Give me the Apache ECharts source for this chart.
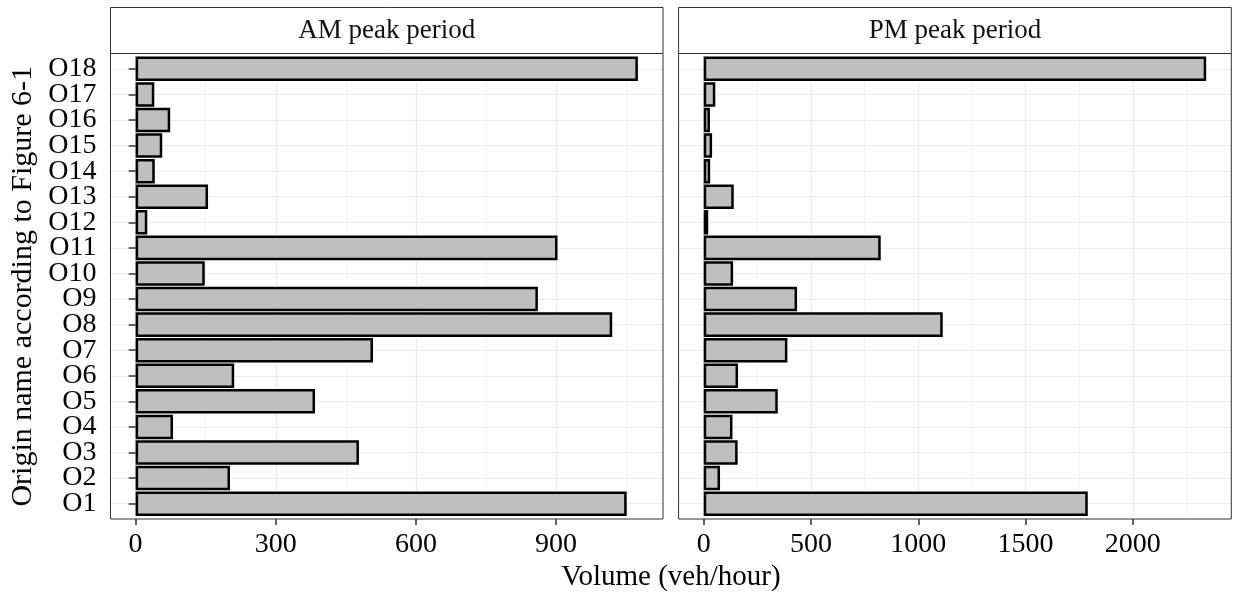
<!DOCTYPE html>
<html>
<head>
<meta charset="utf-8">
<script src="https://cdn.jsdelivr.net/npm/echarts@6/dist/echarts.min.js"></script>
<style>
  html, body { margin: 0; padding: 0; background: #fff; }
  #chart { width: 1235px; height: 596px; }
</style>
</head>
<body>
<div id="chart"></div>
<script>
// origins, bottom to top
const categories = ['O1', 'O2', 'O3', 'O4', 'O5', 'O6', 'O7', 'O8', 'O9', 'O10',
  'O11', 'O12', 'O13', 'O14', 'O15', 'O16', 'O17', 'O18']
const amVolume = [1051, 202, 478, 80, 384, 211, 508, 1020, 861, 148, 903, 25, 155, 41, 57, 74, 40, 1075]
const pmVolume = [1790, 76, 158, 134, 345, 160, 390, 1114, 435, 137, 825, 21, 140, 30, 39, 29, 54, 2342]
const amTicks = [0, 300, 600, 900]
const amMinor = [150, 450, 750, 1050]
const pmTicks = [0, 500, 1000, 1500, 2000]
const pmMinor = [250, 750, 1250, 1750, 2250]
const panelTitles = ['AM peak period', 'PM peak period']

const font = 'Liberation Serif, Times New Roman, serif'
const border = '#333333'
const gridLine = '#ebebeb'

// layout of the two facets (ggplot style)
const stripTop = 7.5
const panelTop = 53.5
const panelBottom = 519
const panels = [{ left: 110.5, right: 663 }, { left: 678.6, right: 1231.3 }]
const unit = (panelBottom - panelTop) / (categories.length + 0.2) // 0.6 expansion each side
const inset = 0.1 * unit

const chart = echarts.init(document.getElementById('chart'))

function expand(values) {
  const max = Math.max(...values)
  return { min: -0.05 * max, max: 1.05 * max }
}

function xAxes(i, values, ticks, minor) {
  const range = expand(values)
  return [{
    gridIndex: i,
    type: 'value',
    min: range.min,
    max: range.max,
    offset: inset,
    axisLine: { show: false },
    axisTick: { show: true, length: 6, customValues: ticks, lineStyle: { color: border, width: 1.5 } },
    axisLabel: {
      customValues: ticks, margin: 12, color: '#000', fontFamily: font, fontSize: 28,
      formatter: v => String(v)
    },
    splitLine: { show: true, lineStyle: { color: gridLine, width: 1.2 } }
  }, {
    // minor grid lines
    gridIndex: i,
    type: 'value',
    min: range.min,
    max: range.max,
    axisLine: { show: false },
    axisTick: { show: false, customValues: minor },
    axisLabel: { show: false, customValues: minor },
    splitLine: { show: true, lineStyle: { color: gridLine, width: 0.6 } }
  }]
}

function yAxis(i, showLabels) {
  return {
    gridIndex: i,
    type: 'category',
    data: categories,
    axisLine: { show: false },
    axisTick: { show: showLabels, alignWithLabel: true, interval: 0, length: 7, lineStyle: { color: border, width: 1.5 } },
    axisLabel: { show: showLabels, interval: 0, margin: 14, color: '#000', fontFamily: font, fontSize: 28 },
    splitLine: { show: true, alignWithLabel: true, interval: 0, lineStyle: { color: gridLine, width: 1.2 } },
    name: showLabels ? 'Origin name according to Figure 6-1' : '',
    nameLocation: 'middle',
    nameGap: 72,
    nameTextStyle: { color: '#000', fontFamily: font, fontSize: 30 }
  }
}

function barSeries(i, values) {
  return {
    type: 'bar',
    xAxisIndex: i * 2,
    yAxisIndex: i,
    data: values,
    barCategoryGap: '4%',
    itemStyle: { color: '#bfbfbf', borderColor: '#000', borderWidth: 2.5 },
    silent: true
  }
}

// panel borders, strips and the shared x title
const graphics = []
panels.forEach((p, i) => {
  const w = p.right - p.left
  graphics.push({
    type: 'rect', z: 100,
    shape: { x: p.left, y: panelTop, width: w, height: panelBottom - panelTop },
    style: { fill: null, stroke: border, lineWidth: 1 }
  })
  graphics.push({
    type: 'rect', z: 100,
    shape: { x: p.left, y: stripTop, width: w, height: panelTop - stripTop },
    style: { fill: '#fff', stroke: border, lineWidth: 1 }
  })
  graphics.push({
    type: 'text', z: 101,
    x: p.left + w / 2, y: (stripTop + panelTop) / 2,
    style: { text: panelTitles[i], fontFamily: font, fontSize: 27, fill: '#111', align: 'center', verticalAlign: 'middle' }
  })
})
graphics.push({
  type: 'text', z: 101,
  x: (panels[0].left + panels[1].right) / 2, y: 577,
  style: { text: 'Volume (veh/hour)', fontFamily: font, fontSize: 29, fill: '#000', align: 'center', verticalAlign: 'middle' }
})

chart.setOption({
  backgroundColor: '#fff',
  animation: false,
  grid: panels.map(p => ({
    left: p.left,
    width: p.right - p.left,
    top: panelTop + inset,
    height: panelBottom - panelTop - 2 * inset,
    containLabel: false
  })),
  xAxis: [...xAxes(0, amVolume, amTicks, amMinor), ...xAxes(1, pmVolume, pmTicks, pmMinor)],
  yAxis: [yAxis(0, true), yAxis(1, false)],
  series: [barSeries(0, amVolume), barSeries(1, pmVolume)],
  graphic: graphics
})
</script>
</body>
</html>
